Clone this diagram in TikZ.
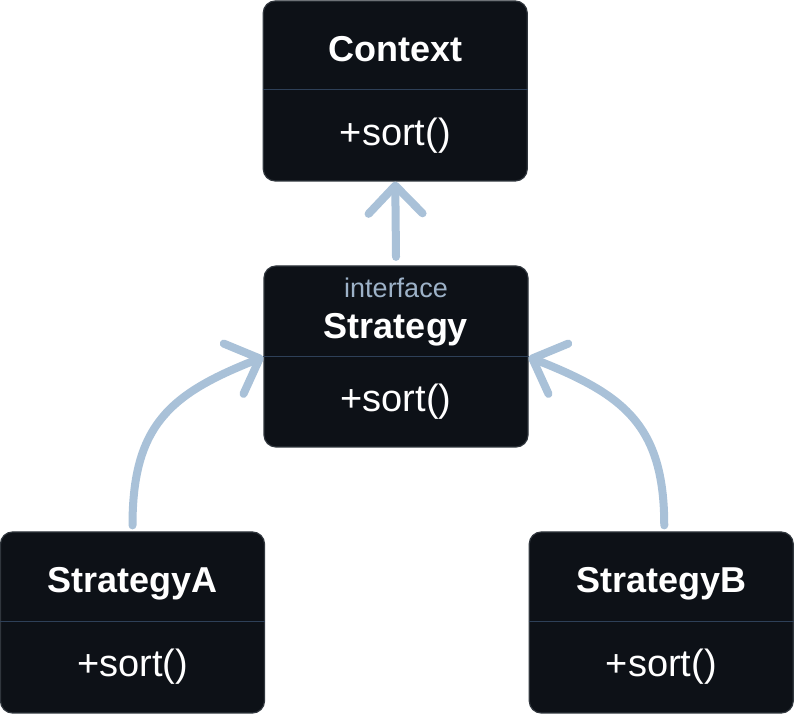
\documentclass[tikz,border=0pt]{standalone}
\usepackage{fontspec}
\setmainfont{Liberation Sans}
\usetikzlibrary{arrows.meta}
\definecolor{boxfill}{HTML}{0D1117}
\definecolor{boxline}{HTML}{30363D}
\definecolor{divline}{HTML}{2E4058}
\definecolor{arrowc}{HTML}{A9C1D8}
\definecolor{ifacec}{HTML}{9DB2C8}
\begin{document}
\begin{tikzpicture}[x=1pt,y=1pt,
 umlbox/.style={draw=boxline, fill=boxfill, line width=1.2pt, rounded corners=12pt, minimum width=264pt, minimum height=181pt, inner sep=0pt},
 divider/.style={draw=divline, line width=1pt},
 title/.style={text=white, font=\fontsize{36}{40}\selectfont\bfseries, anchor=base, inner sep=0pt},
 method/.style={text=white, font=\fontsize{38}{42}\selectfont, anchor=base, inner sep=0pt},
 stereo/.style={text=ifacec, font=\fontsize{27}{30}\selectfont, anchor=base, inner sep=0pt},
 rel/.style={draw=arrowc, line width=8pt, line cap=round, -{Straight Barb[length=28pt,width=54pt,round]}}]
\useasboundingbox (0,0) rectangle (794,714);
\fill[white] (0,0) rectangle (794,714);

% boxes
\node[umlbox, minimum height=180pt] (ctx) at (395.25,623) {};
\node[umlbox] (st) at (396,357.5) {};
\node[umlbox] (sa) at (132.5,91.5) {};
\node[umlbox] (sb) at (661.25,91.5) {};

% dividers
\coordinate (dctx) at (0,624);
\coordinate (dst) at (0,357);
\coordinate (dab) at (0,92);
\draw[divider] (ctx.west |- dctx) -- (ctx.east |- dctx);
\draw[divider] (st.west |- dst) -- (st.east |- dst);
\draw[divider] (sa.west |- dab) -- (sa.east |- dab);
\draw[divider] (sb.west |- dab) -- (sb.east |- dab);

% texts
\node[title] (ctxT) at (395.25,652) {Context};
\node[method] (ctxM) at (395.25,568) {+sort()};
\node[stereo] (stS) at (396,416) {interface};
\node[title] (stT) at (396,375) {Strategy};
\node[method] (stM) at (396,302) {+sort()};
\node[title] (saT) at (132.5,121) {StrategyA};
\node[method] (saM) at (132.5,37) {+sort()};
\node[title] (sbT) at (661.25,121) {StrategyB};
\node[method] (sbM) at (661.25,37) {+sort()};

% relations
\draw[rel] ([yshift=8.5pt]st.north) -- (ctx.south);
\draw[rel] ([yshift=6pt]sa.north) to[out=90,in=201.5,looseness=1.2] (st.west |- dst);
\draw[rel] ([yshift=6pt,xshift=3pt]sb.north) to[out=90,in=-21.5,looseness=1.2] (st.east |- dst);
\end{tikzpicture}
\end{document}
